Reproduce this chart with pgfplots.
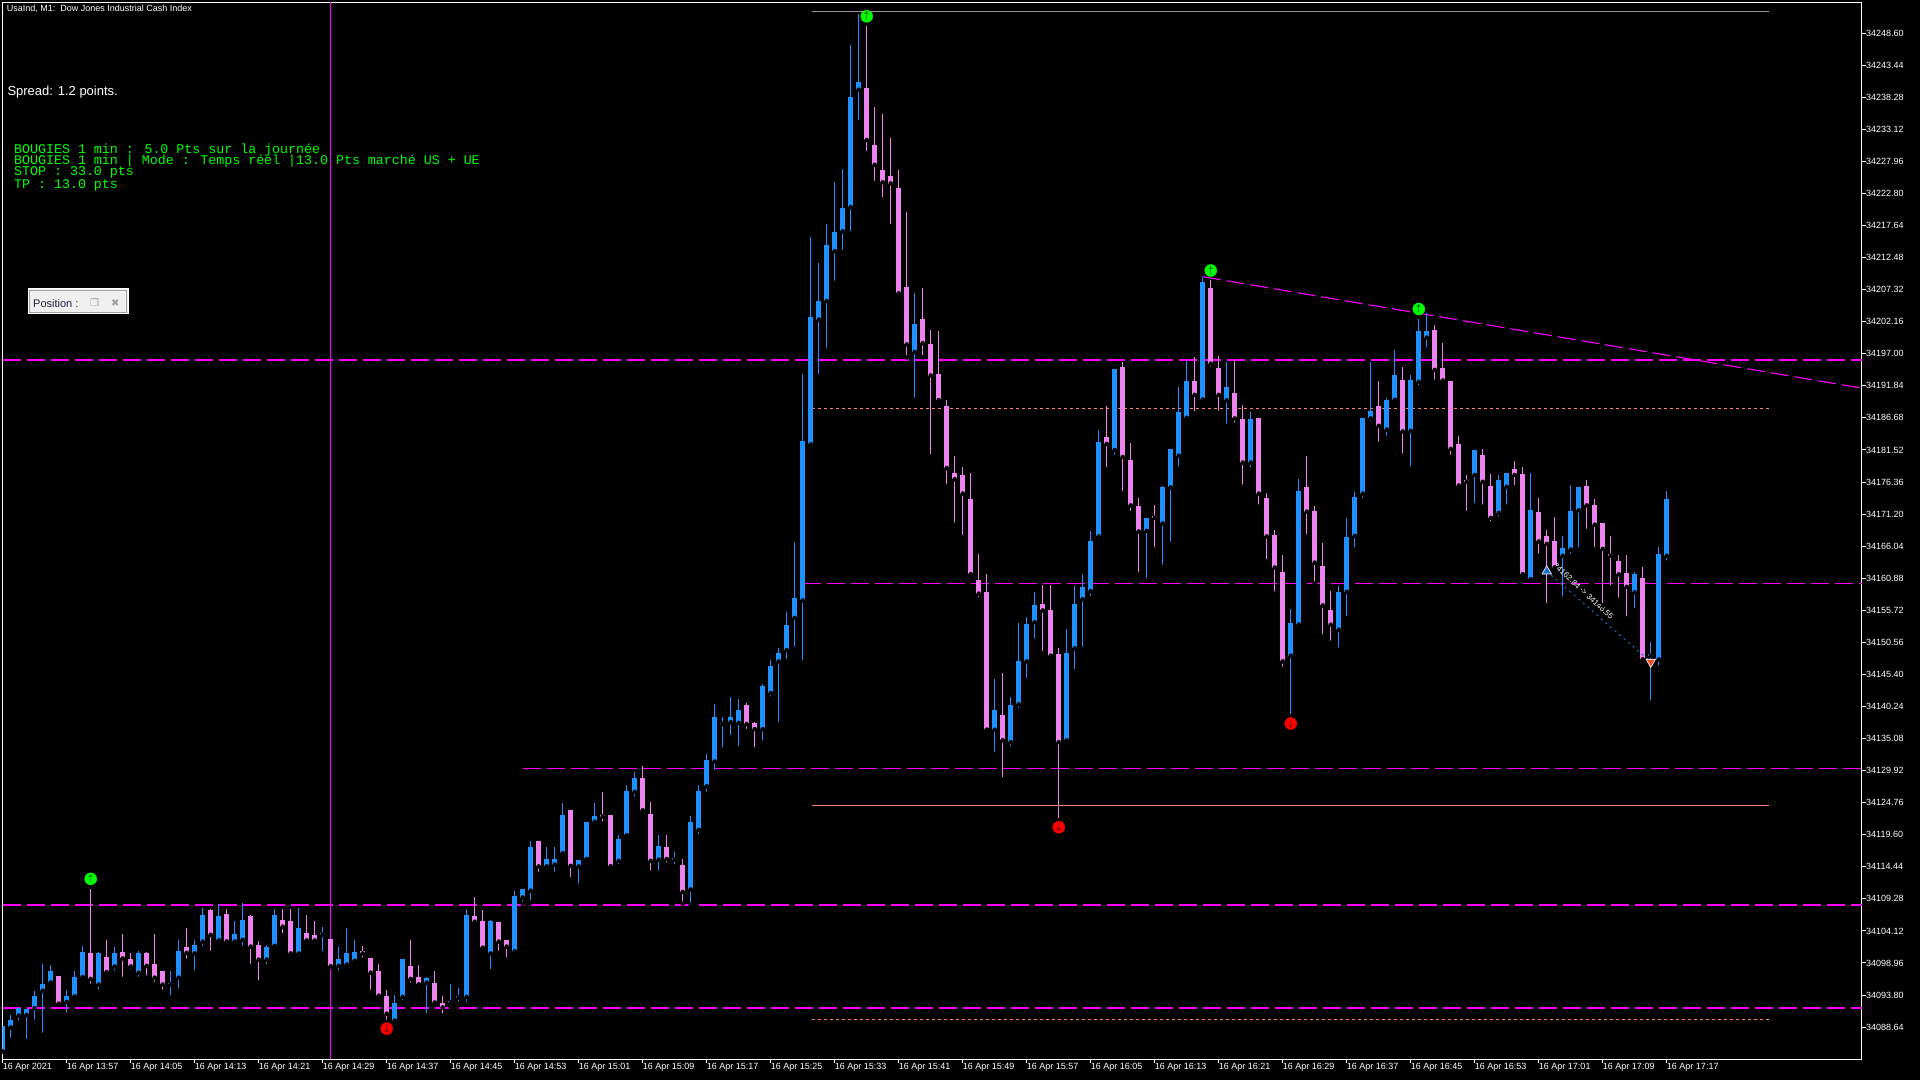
\documentclass[border=0pt]{standalone}
\usepackage{pgfplots}
\usepackage{pgfplotstable}
\pgfplotsset{compat=1.18}
\usepackage{fontspec}
\setmainfont{Liberation Sans}
\newfontfamily\mono{Liberation Mono}
\newfontfamily\dejavu{DejaVu Sans}

\definecolor{bullc}{RGB}{30,144,255}
\definecolor{bearc}{RGB}{238,130,238}
\definecolor{mtmag}{RGB}{255,0,255}
\definecolor{mtsalmon}{RGB}{250,128,114}
\definecolor{mtgray}{RGB}{150,150,150}
\definecolor{mtgreen}{RGB}{0,255,0}
\definecolor{entryc}{RGB}{30,110,200}
\definecolor{exitc}{RGB}{235,80,40}
\definecolor{boxfill}{RGB}{240,240,240}
\definecolor{boxline}{RGB}{160,160,160}
\definecolor{boxtext}{RGB}{30,30,60}

% 1-minute candles, n = minutes after 13:49 (n o h l c)
\pgfplotstableread{
n o h l c
0 34084.7 34088.8 34084.7 34088.8
1 34088.6 34090.6 34086.6 34089.8
2 34090.5 34091.7 34089.4 34091.7
3 34090.6 34091.6 34086.4 34091.6
4 34091.7 34094.5 34089.5 34093.6
5 34094.5 34098.8 34087.4 34095.6
6 34095.8 34098.6 34095.8 34097.7
8 34092.7 34094.6 34090.6 34093.6
9 34093.6 34097.7 34093.5 34096.7
10 34096.7 34101.7 34096.6 34100.7
12 34095.5 34100.7 34094.3 34100.6
14 34098.4 34101.5 34097.4 34100.6
17 34097.4 34100.9 34096.4 34100.6
21 34095.5 34097.7 34093.4 34095.6
22 34096.6 34102.7 34094.5 34100.9
24 34100.5 34102.7 34097.4 34101.9
25 34102.4 34107.8 34101.4 34106.7
27 34102.6 34108.5 34102.4 34106.5
29 34102.4 34105.7 34102.4 34103.6
30 34102.7 34108.6 34101.4 34105.9
33 34099.5 34101.9 34098.4 34101.5
34 34101.7 34107.6 34101.7 34106.7
37 34100.5 34107.8 34099.7 34104.6
40 34103.5 34104.8 34100.5 34103.8
42 34098.5 34101.5 34097.4 34099.6
43 34098.7 34104.6 34098.4 34100.6
44 34099.3 34102.7 34099.3 34100.7
49 34089.7 34093.8 34089.5 34092.5
50 34093.5 34099.6 34092.6 34099.6
53 34095.8 34096.7 34090.5 34096.5
56 34092.6 34095.6 34091.8 34092.8
57 34093.4 34094.9 34092.4 34093.5
58 34093.5 34107.6 34092.4 34106.7
61 34100.5 34105.9 34097.6 34105.7
64 34100.8 34110.5 34100.8 34109.7
65 34109.5 34110.9 34108.5 34110.9
66 34110.6 34118.6 34108.7 34117.6
68 34114.5 34117.6 34113.7 34115.7
69 34114.8 34117.6 34113.3 34115.7
70 34116.6 34124.7 34116.6 34122.8
72 34114.5 34115.5 34111.4 34115.5
73 34115.7 34121.6 34115.7 34121.6
74 34121.7 34124.7 34121.5 34122.6
77 34115.4 34119.6 34114.5 34118.9
78 34119.5 34127.6 34119.5 34126.6
79 34126.5 34129.7 34125.4 34128.7
82 34115.6 34119.6 34113.5 34117.8
84 34115.6 34116.8 34114.5 34115.7
86 34110.8 34122.6 34108.3 34121.6
87 34120.4 34127.6 34119.4 34126.6
88 34127.4 34132.6 34126.2 34131.6
89 34131.4 34140.6 34129.7 34138.5
90 34137.4 34138.5 34133.3 34137.6
91 34137.7 34141.7 34135.3 34138.5
92 34137.6 34141.5 34133.5 34139.7
95 34136.6 34143.8 34134.5 34143.5
96 34142.4 34147.7 34141.5 34146.7
97 34147.5 34149.7 34137.4 34148.8
98 34149.3 34155.4 34147.5 34153.4
99 34154.5 34166.7 34149.5 34157.7
100 34157.3 34193.8 34147.4 34182.9
101 34182.4 34215.8 34182.4 34202.9
102 34202.5 34211.6 34193.4 34205.5
103 34205.5 34217.9 34197.6 34214.5
104 34213.5 34224.7 34208.4 34216.6
105 34216.7 34226.7 34213.4 34220.4
106 34220.6 34246.7 34216.4 34238.4
107 34239.5 34251.7 34234.3 34240.7
114 34197.3 34206.8 34189.6 34201.8
124 34136.5 34144.7 34132.6 34139.6
126 34134.5 34141.8 34133.5 34140.5
127 34140.6 34153.7 34139.7 34147.6
128 34147.5 34154.6 34144.5 34153.5
129 34153.8 34158.7 34150.8 34156.6
133 34134.8 34152.7 34134.5 34148.9
134 34149.6 34159.6 34145.9 34156.8
135 34157.5 34161.6 34149.5 34159.5
136 34158.8 34168.5 34157.7 34166.9
137 34167.6 34184.7 34166.8 34182.8
139 34181.5 34194.6 34180.4 34194.6
143 34168.5 34170.6 34160.5 34170.6
145 34169.7 34175.7 34162.7 34175.6
146 34175.5 34181.7 34166.4 34181.7
147 34180.6 34191.7 34178.5 34187.6
148 34186.7 34196.0 34186.4 34192.6
150 34189.6 34209.4 34189.6 34208.6
153 34189.5 34195.7 34185.4 34191.7
156 34179.5 34187.6 34178.4 34186.5
161 34148.4 34155.9 34138.6 34153.7
162 34153.4 34176.9 34153.4 34174.9
167 34152.6 34159.6 34149.4 34158.7
168 34158.7 34170.6 34154.4 34167.5
169 34167.7 34174.8 34165.5 34174.0
170 34174.5 34186.7 34173.5 34186.7
171 34186.6 34195.7 34185.8 34187.8
173 34184.8 34189.9 34183.5 34189.6
174 34189.6 34197.6 34189.5 34193.6
176 34184.6 34193.6 34178.5 34192.8
177 34192.5 34202.6 34191.6 34200.7
178 34199.6 34203.6 34197.7 34200.7
184 34177.5 34181.5 34172.6 34181.5
187 34171.4 34177.5 34170.5 34176.7
188 34175.6 34177.8 34172.4 34177.8
191 34160.7 34177.8 34160.7 34171.9
195 34164.5 34167.7 34157.6 34165.7
196 34165.5 34175.9 34164.5 34171.7
197 34171.8 34175.6 34165.5 34175.6
204 34158.6 34161.9 34155.7 34161.6
206 34148.4 34150.6 34140.9 34148.5
207 34147.8 34165.9 34146.5 34164.8
208 34164.5 34174.9 34163.4 34173.6
}\bull

\pgfplotstableread{
n o h l c
7 34096.9 34096.9 34092.4 34092.4
11 34100.6 34110.9 34095.3 34096.4
13 34099.9 34102.7 34097.4 34097.5
15 34100.7 34103.6 34096.4 34099.7
16 34099.6 34100.6 34097.6 34098.4
18 34100.6 34100.7 34096.6 34098.5
19 34098.8 34103.6 34095.6 34096.6
20 34097.7 34097.7 34094.3 34095.5
23 34101.5 34104.6 34099.3 34100.6
26 34107.5 34107.6 34100.6 34103.5
28 34106.8 34107.6 34102.4 34102.4
31 34106.5 34106.7 34098.5 34101.6
32 34101.9 34102.5 34095.8 34099.5
35 34105.9 34107.6 34103.4 34104.8
36 34105.7 34107.6 34099.8 34100.5
38 34103.8 34106.7 34102.4 34102.6
39 34103.5 34105.7 34102.4 34102.6
41 34102.8 34102.8 34098.4 34098.4
45 34100.9 34101.7 34099.5 34100.5
46 34099.8 34099.8 34094.3 34097.4
47 34097.7 34098.8 34093.5 34093.7
48 34093.6 34094.6 34089.5 34090.8
51 34098.5 34102.7 34095.5 34096.4
52 34096.7 34098.6 34095.5 34095.5
54 34095.7 34097.7 34092.4 34092.6
55 34092.5 34093.6 34090.5 34091.8
59 34106.5 34109.6 34105.4 34105.6
60 34105.7 34107.5 34101.4 34101.4
62 34105.6 34105.6 34100.6 34102.4
63 34102.7 34102.7 34099.5 34101.6
67 34118.6 34118.6 34113.3 34114.5
71 34123.6 34123.6 34112.5 34114.6
75 34122.6 34126.5 34121.4 34122.5
76 34122.8 34122.8 34114.5 34114.5
80 34128.7 34130.7 34123.5 34123.5
81 34122.9 34124.9 34113.5 34115.4
83 34117.6 34119.6 34114.8 34115.7
85 34114.7 34115.7 34108.5 34110.4
93 34140.4 34140.8 34136.3 34137.4
94 34137.6 34137.8 34133.3 34136.6
108 34239.8 34249.8 34229.3 34231.4
109 34230.6 34236.7 34224.5 34227.4
110 34226.6 34235.6 34221.8 34224.6
111 34225.6 34231.7 34217.5 34224.4
112 34223.7 34226.6 34206.7 34206.7
113 34207.7 34219.8 34196.4 34198.5
115 34202.6 34207.6 34196.4 34198.7
116 34198.6 34200.8 34180.5 34193.5
117 34193.8 34200.7 34189.5 34189.5
118 34188.6 34189.5 34175.7 34178.6
119 34177.8 34180.6 34169.5 34176.8
120 34177.5 34178.8 34167.5 34174.5
121 34173.7 34177.8 34161.5 34161.5
122 34160.6 34164.8 34157.5 34158.4
123 34158.7 34161.6 34136.5 34136.5
125 34138.9 34145.7 34128.5 34134.8
130 34156.8 34159.8 34148.8 34155.7
131 34155.8 34159.8 34148.4 34148.4
132 34148.7 34149.6 34121.9 34134.5
138 34183.6 34188.6 34178.4 34182.5
140 34194.9 34195.7 34174.5 34180.4
141 34179.9 34182.6 34171.4 34172.6
142 34172.5 34173.8 34161.5 34168.4
144 34170.9 34172.7 34165.5 34170.6
149 34192.6 34196.5 34187.4 34190.4
151 34207.6 34208.9 34194.6 34195.4
152 34194.7 34196.6 34187.5 34190.4
154 34190.7 34196.0 34185.6 34186.6
155 34186.5 34188.8 34175.6 34179.5
157 34186.7 34186.7 34172.4 34174.5
158 34173.8 34174.6 34163.6 34167.6
159 34167.8 34168.6 34158.4 34162.6
160 34161.9 34164.6 34146.3 34147.5
163 34175.6 34180.6 34167.6 34171.6
164 34171.7 34172.5 34160.0 34163.4
165 34162.9 34166.6 34151.5 34156.5
166 34155.8 34158.8 34150.5 34153.4
172 34188.6 34192.6 34182.5 34185.4
175 34192.8 34194.9 34180.6 34184.5
179 34200.8 34201.6 34192.5 34194.4
180 34194.7 34198.7 34192.5 34192.7
181 34192.6 34192.6 34180.4 34181.7
182 34182.5 34183.8 34175.5 34175.8
183 34176.5 34177.5 34171.4 34176.4
185 34180.7 34181.7 34172.4 34176.4
186 34175.7 34177.7 34169.7 34170.6
189 34178.5 34179.7 34175.5 34177.5
190 34177.7 34178.8 34161.5 34161.5
192 34171.5 34173.8 34164.5 34166.8
193 34167.7 34168.6 34156.5 34166.4
194 34166.9 34170.7 34162.6 34162.6
198 34175.7 34176.7 34168.5 34172.6
199 34172.7 34173.6 34165.5 34169.5
200 34169.8 34169.8 34156.5 34165.6
201 34164.7 34167.7 34159.4 34164.5
202 34163.7 34164.6 34157.4 34161.5
203 34161.7 34164.6 34154.4 34159.5
205 34160.9 34162.7 34147.8 34147.8
}\bear

\begin{document}
\begin{tikzpicture}[x=1pt,y=1pt]
\useasboundingbox (0,0) rectangle (1920,1080);
\fill[black] (0,0) rectangle (1920,1080);
\begin{axis}[
  at={(2.7pt,21pt)}, anchor=south west,
  scale only axis, width=1859.3pt, height=1056.5pt,
  xmin=0, xmax=232.4, ymin=34083.51, ymax=34253.53,
  scaled x ticks=false, scaled y ticks=false,
  axis background/.style={fill=black},
  axis line style={white, line width=1pt},
  tick align=outside, major tick length=4pt,
  tick style={white, line width=1pt},
  xtick pos=bottom, ytick pos=right,
  xtick={0,8,...,208},
  xticklabels={16 Apr 2021, 16 Apr 13:57, 16 Apr 14:05, 16 Apr 14:13, 16 Apr 14:21, 16 Apr 14:29, 16 Apr 14:37, 16 Apr 14:45, 16 Apr 14:53, 16 Apr 15:01, 16 Apr 15:09, 16 Apr 15:17, 16 Apr 15:25, 16 Apr 15:33, 16 Apr 15:41, 16 Apr 15:49, 16 Apr 15:57, 16 Apr 16:05, 16 Apr 16:13, 16 Apr 16:21, 16 Apr 16:29, 16 Apr 16:37, 16 Apr 16:45, 16 Apr 16:53, 16 Apr 17:01, 16 Apr 17:09, 16 Apr 17:17},
  ytick={34088.64,34093.80,34098.96,34104.12,34109.28,34114.44,34119.60,34124.76,34129.92,34135.08,34140.24,34145.40,34150.56,34155.72,34160.88,34166.04,34171.20,34176.36,34181.52,34186.68,34191.84,34197.00,34202.16,34207.32,34212.48,34217.64,34222.80,34227.96,34233.12,34238.28,34243.44,34248.60},
  yticklabels={34088.64,34093.80,34098.96,34104.12,34109.28,34114.44,34119.60,34124.76,34129.92,34135.08,34140.24,34145.40,34150.56,34155.72,34160.88,34166.04,34171.20,34176.36,34181.52,34186.68,34191.84,34197.00,34202.16,34207.32,34212.48,34217.64,34222.80,34227.96,34233.12,34238.28,34243.44,34248.60},
  ticklabel style={white, font=\fontsize{9}{10}\selectfont},
  xticklabel style={anchor=north west, inner sep=0pt},
  yticklabel style={anchor=west, inner sep=0pt},
]
% order levels
\addplot[mtgray, line width=1pt] coordinates {(101.1,34252.13) (220.75,34252.13)};
\addplot[mtsalmon, line width=1pt, dash pattern=on 3pt off 3pt] coordinates {(101.1,34188.27) (220.75,34188.27)};
\addplot[mtsalmon, line width=1pt] coordinates {(101.1,34124.38) (220.75,34124.38)};
\addplot[mtsalmon, line width=1pt, dash pattern=on 3pt off 3pt] coordinates {(101.1,34089.94) (220.75,34089.94)};
% horizontal levels
\addplot[mtmag, line width=1.1pt, dash pattern=on 18pt off 6pt] coordinates {(0,34196.0) (232.4,34196.0)};
\addplot[mtmag, line width=1.1pt, dash pattern=on 18pt off 6pt] coordinates {(100,34160.06) (232.4,34160.06)};
\addplot[mtmag, line width=1pt, dash pattern=on 18pt off 6pt] coordinates {(65,34130.28) (232.4,34130.28)};
\addplot[mtmag, line width=1.1pt, dash pattern=on 18pt off 6pt] coordinates {(0,34108.29) (232.4,34108.29)};
\addplot[mtmag, line width=1.1pt, dash pattern=on 18pt off 6pt] coordinates {(0,34091.71) (232.4,34091.71)};
% trend line and vertical line
\addplot[mtmag, line width=1.1pt, dash pattern=on 18pt off 6pt] coordinates {(150,34209.4) (232.4,34191.47)};
\addplot[mtmag, line width=1pt] coordinates {(41,34083.51) (41,34253.53)};

% wicks
\addplot[only marks, mark=none, error bars/.cd, y dir=plus, y explicit, error mark=none,
  error bar style={draw=bullc, line width=1pt}]
  table[x=n, y=l, y error plus expr={\thisrow{h}-\thisrow{l}}] {\bull};
\addplot[only marks, mark=none, error bars/.cd, y dir=plus, y explicit, error mark=none,
  error bar style={draw=bearc, line width=1pt}]
  table[x=n, y=l, y error plus expr={\thisrow{h}-\thisrow{l}}] {\bear};
% bodies
\addplot[only marks, mark=none, error bars/.cd, y dir=plus, y explicit, error mark=none,
  error bar style={draw=bullc, line width=5pt}]
  table[x=n, y=o, y error plus expr={max(\thisrow{c}-\thisrow{o},0.25)}] {\bull};
\addplot[only marks, mark=none, error bars/.cd, y dir=plus, y explicit, error mark=none,
  error bar style={draw=bearc, line width=5pt}]
  table[x=n, y=c, y error plus expr={max(\thisrow{o}-\thisrow{c},0.25)}] {\bear};

% fractal arrows
\addplot[only marks, mark=*, mark size=6pt, mark options={fill=mtgreen, draw=mtgreen}]
  coordinates {(11,34112.5) (108,34251.3) (151,34210.4) (177,34204.2)};
\addplot[only marks, mark=text, text mark as node=true, text mark={$\uparrow$},
  mark options={black}, text mark style={font=\bfseries\fontsize{10}{10}\selectfont}]
  coordinates {(11,34112.5) (108,34251.3) (151,34210.4) (177,34204.2)};
\addplot[only marks, mark=*, mark size=6pt, mark options={fill=red, draw=red}]
  coordinates {(48,34088.4) (132,34120.8) (161,34137.5)};
\addplot[only marks, mark=text, text mark as node=true, text mark={$\downarrow$},
  mark options={black}, text mark style={font=\bfseries\fontsize{10}{10}\selectfont}]
  coordinates {(48,34088.4) (132,34120.8) (161,34137.5)};

% trade
\addplot[entryc, line width=1pt, dash pattern=on 2pt off 4pt] coordinates {(193,34162.0) (206,34147.4)};
\addplot[only marks, mark=triangle*, mark size=5.5pt, mark options={fill=entryc, draw=white, line width=0.6pt}]
  coordinates {(193,34162.0)};
\addplot[only marks, mark=triangle*, mark size=5.5pt, mark options={rotate=180, fill=exitc, draw=white, line width=0.6pt}]
  coordinates {(206,34147.4)};
\node[white, rotate=-43, font=\fontsize{8}{8}\selectfont, inner sep=0pt] at (axis cs:197.6,34158.8) {34162.84 -> 34146.55};
\end{axis}

\node[anchor=base west, white, font=\fontsize{9}{10}\selectfont, inner sep=0pt] at (6.7,1068) {UsaInd, M1:\ \ Dow Jones Industrial Cash Index};
\node[anchor=base west, white, font=\fontsize{13}{13}\selectfont, inner sep=0pt] at (7.3,984.5) {Spread: 1.2 points.};
\node[anchor=base west, mtgreen, font=\mono\fontsize{13.3}{13.3}\selectfont, inner sep=0pt] at (14,926) {BOUGIES 1 min : 5.0 Pts sur la journée};
\node[anchor=base west, mtgreen, font=\mono\fontsize{13.3}{13.3}\selectfont, inner sep=0pt] at (14,915.7) {BOUGIES 1 min | Mode : Temps réel |13.0 Pts marché US + UE};
\node[anchor=base west, mtgreen, font=\mono\fontsize{13.3}{13.3}\selectfont, inner sep=0pt] at (14,904) {STOP : 33.0 pts};
\node[anchor=base west, mtgreen, font=\mono\fontsize{13.3}{13.3}\selectfont, inner sep=0pt] at (14,891.7) {TP : 13.0 pts};

\draw[white, line width=1pt, fill=boxfill] (28,766) rectangle (128,791);
\draw[boxline, line width=1pt] (29.5,767.5) rectangle (126.5,789.5);
\node[anchor=base west, boxtext, font=\fontsize{11}{11}\selectfont, inner sep=0pt] at (33,772) {Position :};
\node[anchor=base west, boxline, font=\dejavu\fontsize{10}{10}\selectfont, inner sep=0pt] at (90,773) {❐};
\node[anchor=base west, boxline, font=\dejavu\fontsize{10}{10}\selectfont, inner sep=0pt] at (111,773) {✖};
\end{tikzpicture}
\end{document}
